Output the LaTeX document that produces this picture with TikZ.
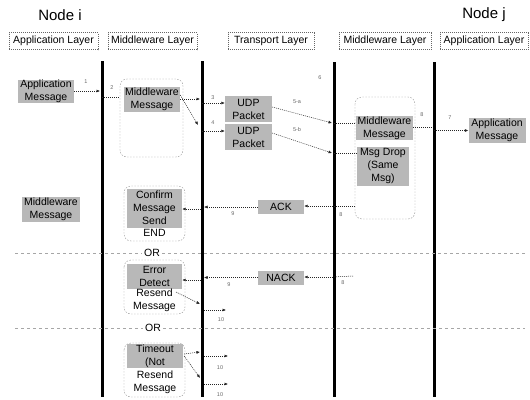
\documentclass[tikz,border=0pt]{standalone}
\usepackage{fontspec}
\setmainfont{Liberation Sans}
\usetikzlibrary{arrows.meta,calc}
\begin{document}
\begin{tikzpicture}[x=1pt,y=-1pt,
  txt/.style={inner sep=0pt, align=center, font=\fontsize{10.5}{13}\selectfont},
  shaded/.style={txt, fill=black!28},
  layer/.style={draw=black!60, dash pattern=on 1pt off 1pt, inner sep=0pt, minimum height=17pt, font=\fontsize{10.5}{12}\selectfont},
  life/.style={line width=3pt},
  frame/.style={draw=black!45, dash pattern=on 1.5pt off 1.5pt, rounded corners=7pt},
  conn/.style={black!85, dash pattern=on 1pt off 1pt, line width=0.5pt},
  arr/.style={conn, -{Latex[length=3.5pt,width=3pt]}},
  num/.style={font=\fontsize{5.5}{6}\selectfont, text=black!60, inner sep=0pt},
  sep/.style={black!35, dash pattern=on 3pt off 3pt, line width=0.4pt}
]
\useasboundingbox (0,0) rectangle (530,399);

% titles
\node[font=\fontsize{15}{15}\selectfont, inner sep=0pt] (nodei) at (60,15) {Node i};
\node[font=\fontsize{15}{15}\selectfont, inner sep=0pt] (nodej) at (484,15) {Node j};

% layer labels
\node[layer, minimum width=89pt] (la1) at (53.5,41) {Application Layer};
\node[layer, minimum width=89pt] (la2) at (152.5,41) {Middleware Layer};
\node[layer, minimum width=86pt] (la3) at (271,41) {Transport Layer};
\node[layer, minimum width=92pt] (la4) at (385,41) {Middleware Layer};
\node[layer, minimum width=88pt] (la5) at (484,41) {Application Layer};

% lifelines
\coordinate (l1t) at (102,61); \coordinate (l1b) at (102,397);
\coordinate (l2t) at (202,61); \coordinate (l2b) at (202,397);
\coordinate (l3t) at (334,62); \coordinate (l3b) at (334,397);
\coordinate (l4t) at (434,62); \coordinate (l4b) at (434,397);
\draw[life] (l1t) -- (l1b);
\draw[life] (l2t) -- (l2b);
\draw[life] (l3t) -- (l3b);
\draw[life] (l4t) -- (l4b);

% frames
\draw[frame] (120,79) rectangle (183,157);
\draw[frame] (355,97) rectangle (415,219);
\draw[frame] (124,186) rectangle (185,241);
\draw[frame] (124,260) rectangle (185,314);
\draw[frame] (124,343) rectangle (185,397);
\coordinate (mwfl) at (120,97);
\coordinate (mwjfa) at (355,206);
\coordinate (mwjfb) at (353,276);

% message nodes
\node[shaded, minimum width=56pt, minimum height=23pt] (appi) at (46,91) {Application\\Message};
\node[shaded, minimum width=56pt, minimum height=25pt] (mwi) at (152,99) {Middleware\\Message};
\node[shaded, minimum width=47pt, minimum height=26pt] (udp1) at (248.5,109) {UDP\\Packet};
\node[shaded, minimum width=47pt, minimum height=26pt] (udp2) at (248.5,137) {UDP\\Packet};
\node[shaded, minimum width=57pt, minimum height=24pt] (mwj) at (384.5,128) {Middleware\\Message};
\node[shaded, minimum width=52pt, minimum height=39pt] (drop) at (383,166) {Msg Drop\\(Same\\Msg)};
\node[shaded, minimum width=57pt, minimum height=25pt] (appj) at (497,130.5) {Application\\Message};
\node[shaded, minimum width=58pt, minimum height=25pt] (mwi2) at (51,209.5) {Middleware\\Message};
\node[shaded, minimum width=55pt, minimum height=39pt] (confirm) at (154.5,208) {Confirm\\Message\\Send};
\node[txt] (endt) at (154.5,233) {END};
\node[shaded, minimum width=46pt, minimum height=14pt] (ack) at (281,207) {ACK};
\node[shaded, minimum width=55pt, minimum height=25pt] (error) at (154.5,276) {Error\\Detect};
\node[txt] (resend1) at (154.5,300) {Resend\\Message};
\node[shaded, minimum width=46pt, minimum height=14pt] (nack) at (281,277.5) {NACK};
\node[shaded, minimum width=56pt, minimum height=24pt] (timeout) at (155,356) {Timeout\\(Not};
\node[txt] (resend2) at (155,382) {Resend\\Message};

% separators
\node[txt, fill=white, inner xsep=2pt] (or1) at (152,253) {OR};
\node[txt, fill=white, inner xsep=2pt] (or2) at (153,328) {OR};
\coordinate (s1l) at (15,253); \coordinate (s1r) at (525,253);
\coordinate (s2l) at (15,328); \coordinate (s2r) at (525,328);
\draw[sep] (s1l) -- (or1.west);
\draw[sep] (or1.east) -- (s1r);
\draw[sep] (s2l) -- (or2.west);
\draw[sep] (or2.east) -- (s2r);

% lifeline points
\coordinate (p1a) at (100,91);
\coordinate (p1b) at (102,97);
\coordinate (p2a) at (200,99);
\coordinate (p2b) at (198,125);
\coordinate (p2c) at (202,103);
\coordinate (p2d) at (202,131);
\coordinate (p3a) at (332,123);
\coordinate (p3b) at (332,153);
\coordinate (p3c) at (334,123);
\coordinate (p3d) at (334,153);
\coordinate (p4a) at (432,127);
\coordinate (p4b) at (434,130.5);
% ack
\coordinate (q3a) at (333,206);
\coordinate (q2a) at (204,207);
\coordinate (q2b) at (201,209);
% nack
\coordinate (r3a) at (333,277);
\coordinate (r2a) at (204,277.5);
\coordinate (r2b) at (201,280);
\coordinate (r2c) at (200,304);
\coordinate (r2d) at (204,310);
\coordinate (r2e) at (226,310);
% timeout
\coordinate (t2a) at (200,352);
\coordinate (t2b) at (200,378);
\coordinate (t2c) at (204,356);
\coordinate (t2d) at (228,356);
\coordinate (t2e) at (204,384);
\coordinate (t2f) at (228,384);

% connectors
\draw[arr] (appi.east) -- (p1a);
\draw[conn] (p1b) -- (mwfl);
\draw[arr] (mwi.east) -- (p2a);
\draw[arr] ($(mwi.east)+(0,-4)$) -- (p2b);
\draw[arr] (p2c) -- (udp1.west |- p2c);
\draw[arr] (p2d) -- (udp2.west |- p2d);
\draw[arr] ($(udp1.east)+(0,-2)$) -- (p3a);
\draw[arr] ($(udp2.east)+(0,-4)$) -- (p3b);
\draw[conn] (p3c) -- (mwj.west |- p3c);
\draw[conn] (p3d) -- (drop.west |- p3d);
\draw[conn] (mwj.east |- p4a) -- (p4a);
\draw[arr] (p4b) -- (appj.west);

\draw[conn] (mwjfa) -- (q3a);
\draw[arr] (q3a) -- (ack.east |- q3a);
\draw[arr] (ack.west) -- (q2a);
\draw[arr] (q2b) -- (confirm.east |- q2b);

\draw[conn] (mwjfb) -- (r3a);
\draw[arr] (r3a) -- (nack.east |- r3a);
\draw[arr] (nack.west) -- (r2a);
\draw[arr] (r2b) -- (error.east |- r2b);
\draw[arr] ($(resend1.east)+(0,-8)$) -- (r2c);
\draw[arr] (r2d) -- (r2e);

\draw[arr] ($(timeout.east)+(1,-2)$) -- (t2a);
\draw[arr] ($(timeout.east)+(1,0)$) -- (t2b);
\draw[arr] (t2c) -- (t2d);
\draw[arr] (t2e) -- (t2f);

% step numbers
\node[num] at (86,82) {1};
\node[num] at (112,88) {2};
\node[num] at (213,98) {3};
\node[num] at (213,123) {4};
\node[num] at (297,102) {5-a};
\node[num] at (297,130) {5-b};
\node[num] at (320,78) {6};
\node[num] at (422,115) {8};
\node[num] at (450,118) {7};
\node[num] at (233,214) {9};
\node[num] at (341,215) {8};
\node[num] at (229,285) {9};
\node[num] at (343,283) {8};
\node[num] at (221,320) {10};
\node[num] at (220,368) {10};
\node[num] at (220,395) {10};
\end{tikzpicture}
\end{document}
